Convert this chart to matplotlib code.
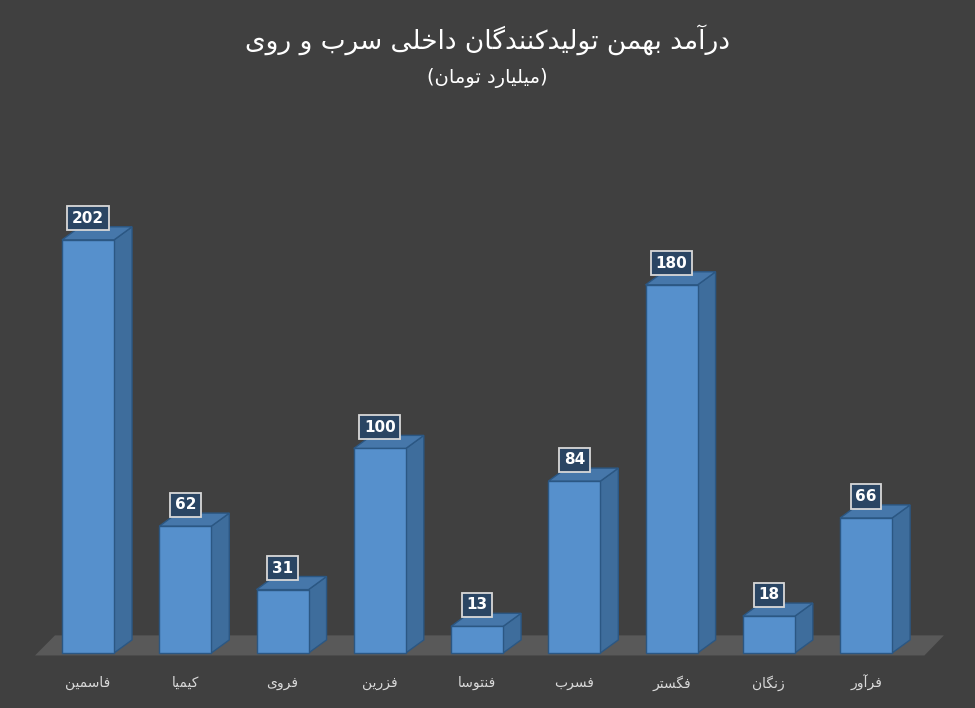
import matplotlib
matplotlib.use("Agg")
import matplotlib.pyplot as plt
from matplotlib.patches import Polygon

# --- minimal Persian shaping (presentation forms) ---
DUAL = {'ب':'\uFE8F\uFE90\uFE91\uFE92','ت':'\uFE95\uFE96\uFE97\uFE98','خ':'\uFEA5\uFEA6\uFEA7\uFEA8',
        'س':'\uFEB1\uFEB2\uFEB3\uFEB4','ف':'\uFED1\uFED2\uFED3\uFED4','ل':'\uFEDD\uFEDE\uFEDF\uFEE0',
        'م':'\uFEE1\uFEE2\uFEE3\uFEE4','ن':'\uFEE5\uFEE6\uFEE7\uFEE8','ه':'\uFEE9\uFEEA\uFEEB\uFEEC',
        'ی':'\uFBFC\uFBFD\uFBFE\uFBFF','ک':'\uFB8E\uFB8F\uFB90\uFB91','گ':'\uFB92\uFB93\uFB94\uFB95'}
RIGHT = {'ا':'\uFE8D\uFE8E','آ':'\uFE81\uFE82','د':'\uFEA9\uFEAA','ر':'\uFEAD\uFEAE',
         'ز':'\uFEAF\uFEB0','و':'\uFEED\uFEEE'}

def shape(s):
    out = []
    for i, c in enumerate(s):
        if c not in DUAL and c not in RIGHT:
            out.append(c); continue
        p = s[i-1] if i > 0 else ''
        n = s[i+1] if i + 1 < len(s) else ''
        jp = p in DUAL
        jn = c in DUAL and (n in DUAL or n in RIGHT)
        if c in RIGHT:
            out.append(RIGHT[c][1] if jp else RIGHT[c][0])
        else:
            f = DUAL[c]
            out.append(f[3] if jp and jn else f[1] if jp else f[2] if jn else f[0])
    return ''.join(out)[::-1]

title = "درآمد بهمن تولیدکنندگان داخلی سرب و روی"
subtitle = "میلیارد تومان"
categories = ["فاسمین", "کیمیا", "فروی", "فزرین", "فنتوسا", "فسرب", "فگستر", "زنگان", "فرآور"]
values = [202, 62, 31, 100, 13, 84, 180, 18, 66]

BG = '#404040'
fig = plt.figure(figsize=(9.75, 7.08), dpi=100, facecolor=BG)
ax = fig.add_axes([0, 0, 1, 1])
ax.set_facecolor(BG)
ax.set_xlim(-0.905, 9.12)
ax.set_ylim(-26.9, 319.3)
ax.axis('off')

w = 0.535
dx, dy = 0.185, 6.4

# floor
ax.add_patch(Polygon([(-0.545, -1.2), (8.6, -1.2), (8.8, 8.6), (-0.34, 8.6)],
                     closed=True, facecolor='#595959', edgecolor='none', zorder=1))

for i, v in enumerate(values):
    x0, x1 = i - w/2, i + w/2
    ax.add_patch(Polygon([(x1, 0), (x1+dx, dy), (x1+dx, v+dy), (x1, v)],
                         facecolor='#3e6d9c', edgecolor='#2b5783', lw=1, zorder=2))
    ax.add_patch(Polygon([(x0, v), (x1, v), (x1+dx, v+dy), (x0+dx, v+dy)],
                         facecolor='#4677aa', edgecolor='#2b5783', lw=1, zorder=2))
    ax.bar(i, v, width=w, bottom=0, color='#5690cc', edgecolor='#2b5783', lw=1, zorder=3)
    ax.text(i, v + 10.5, str(v), ha='center', va='center', color='white', fontsize=11,
            fontweight='bold', zorder=5,
            bbox=dict(boxstyle='square,pad=0.3', facecolor='#2a4563', edgecolor='#d8d8d8', lw=1.3))
    ax.text(i, -14.7, shape(categories[i]), ha='center', va='center', color='#d9d9d9',
            fontsize=10, family='DejaVu Sans')

fig.text(0.5, 1 - 40/708, shape(title), ha='center', va='center', color='white', fontsize=19,
         family='DejaVu Sans')
fig.text(0.5, 1 - 78/708, '(' + shape(subtitle) + ')', ha='center', va='center', color='white',
         fontsize=14, family='DejaVu Sans')

fig.savefig('out.png', dpi=100, facecolor=BG)
